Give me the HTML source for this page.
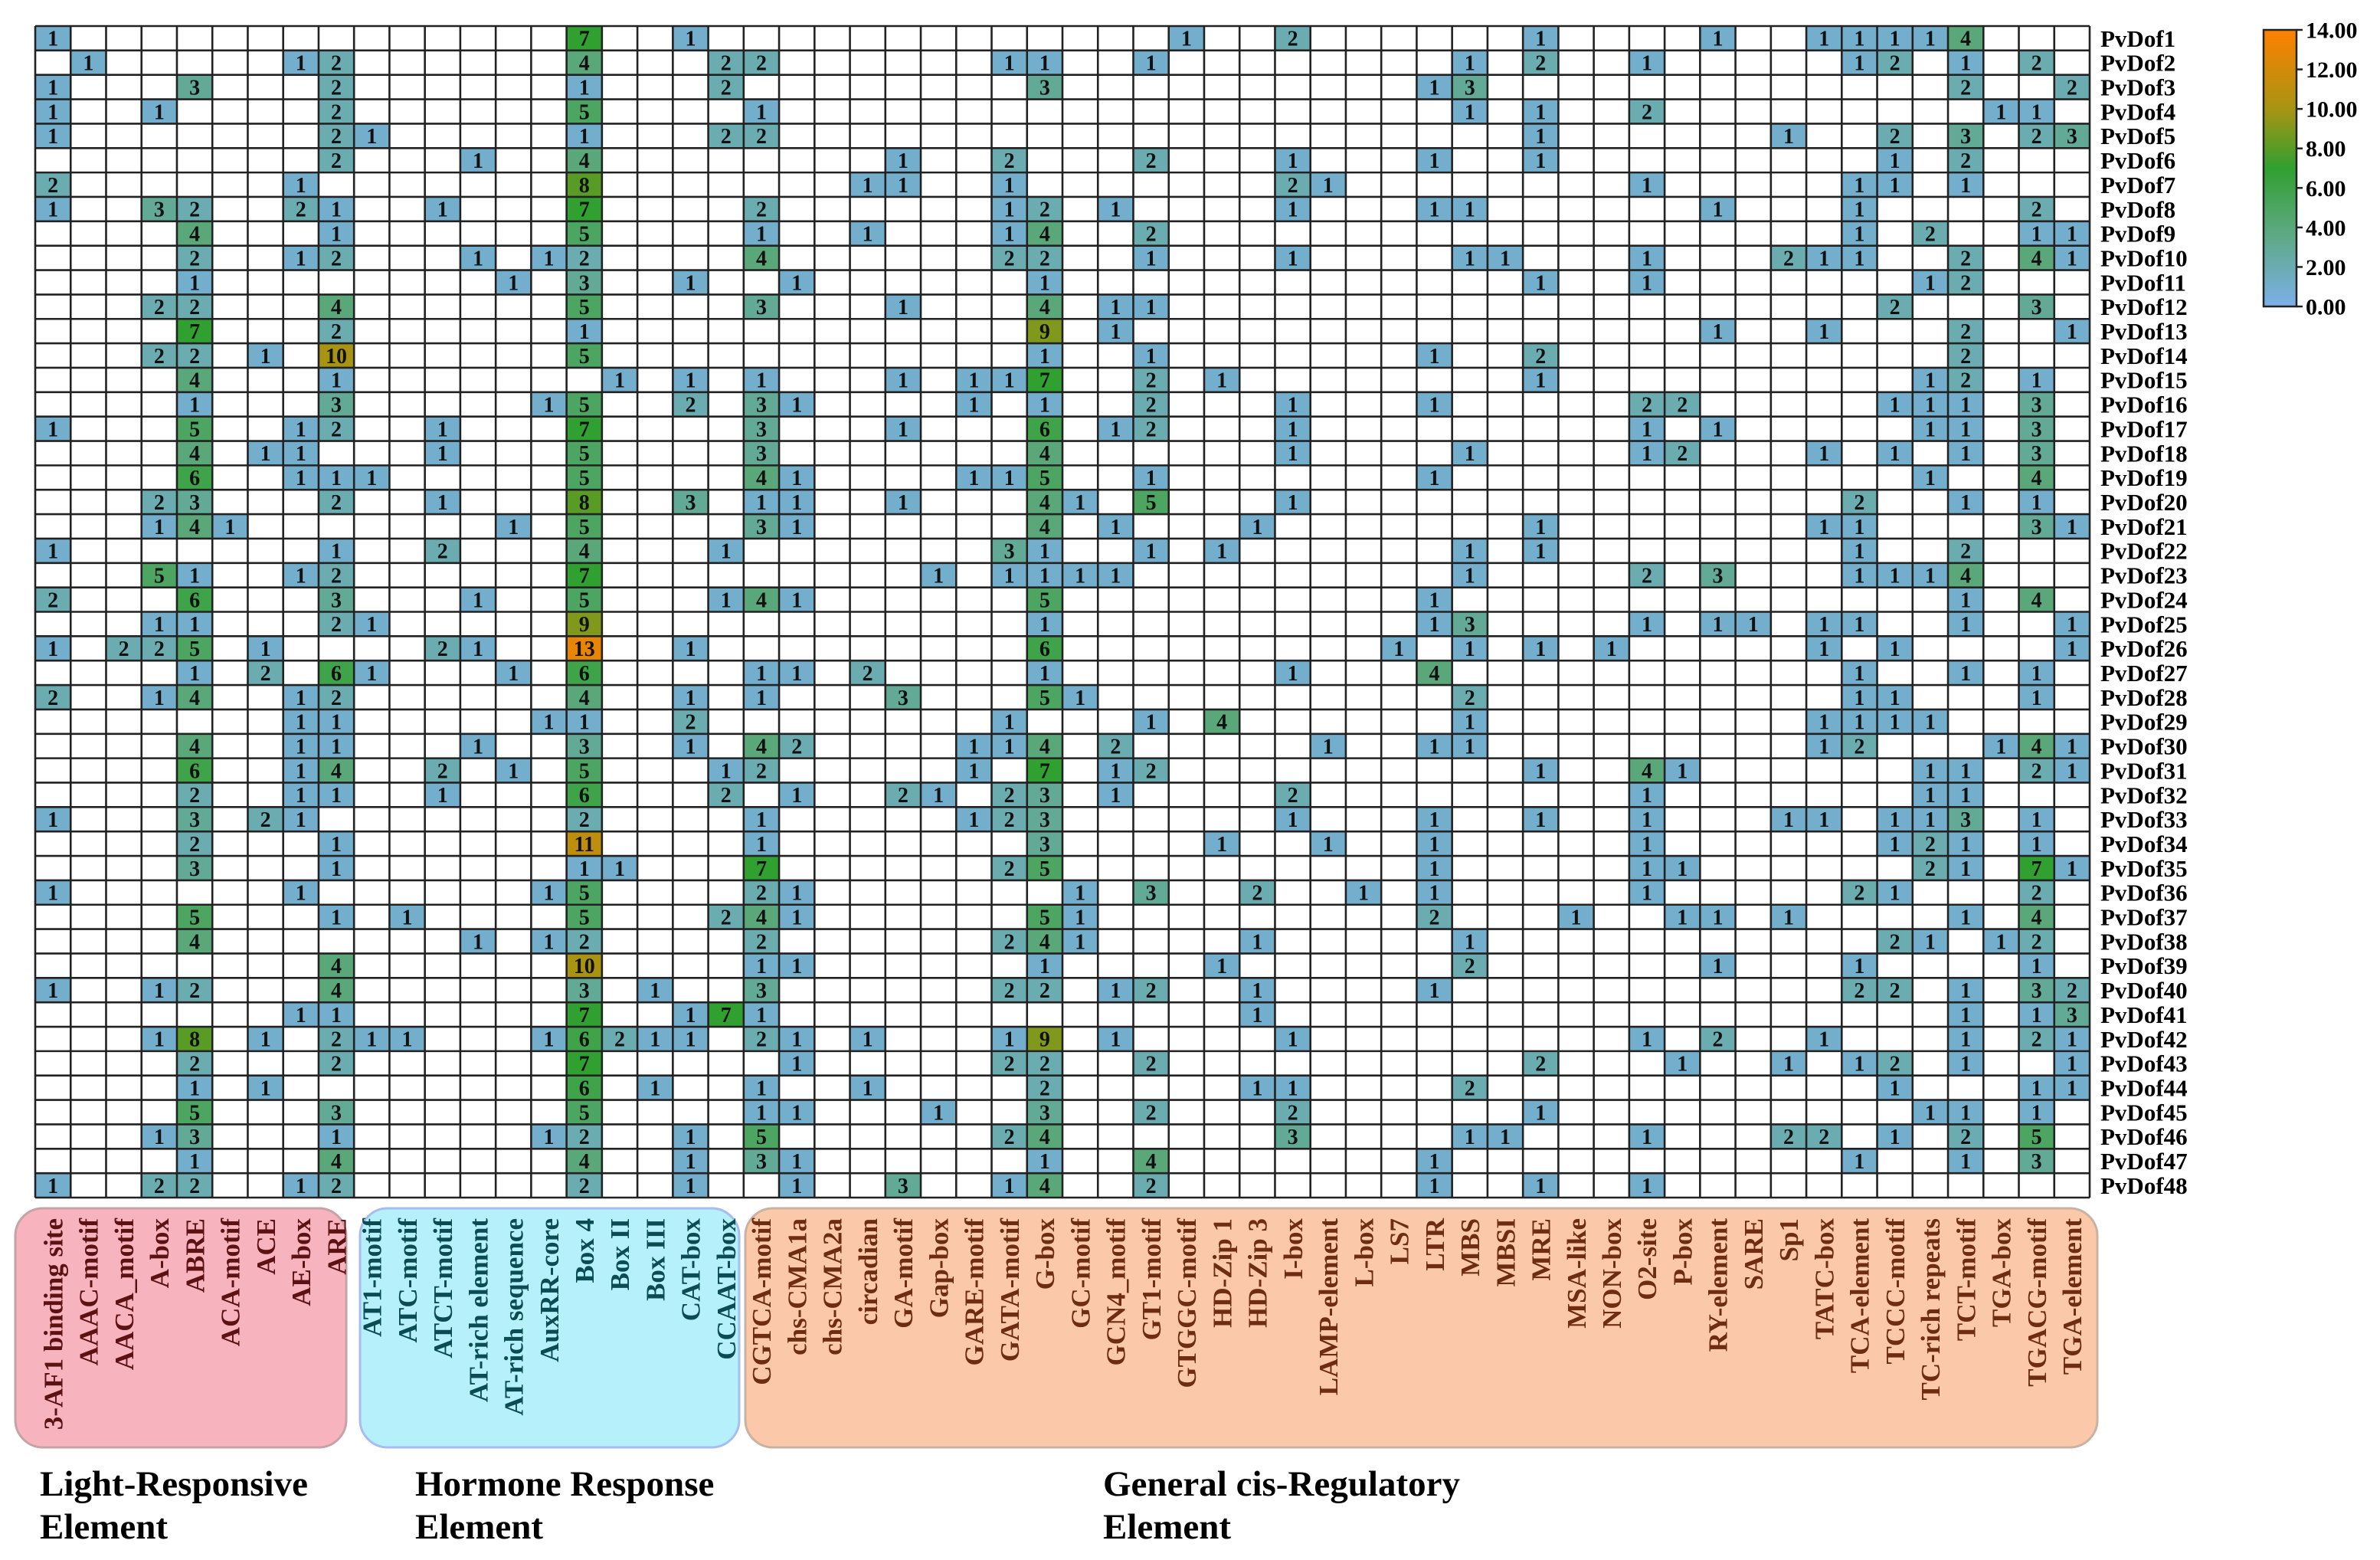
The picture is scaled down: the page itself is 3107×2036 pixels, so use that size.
<!DOCTYPE html>
<html><head><meta charset="utf-8"><style>
html,body{margin:0;padding:0;background:#fff;}
svg{display:block;font-family:"Liberation Serif",serif;font-weight:bold;}
</style></head><body>
<svg id="chart" width="3107" height="2036" viewBox="0 0 3107 2036" xmlns="http://www.w3.org/2000/svg">
<g id="groups"></g><g id="cells"></g><g id="rowlabels"></g><g id="collabels"></g><g id="legend"></g>
</svg>
<script>
const categories = ["3-AF1 binding site","AAAC-motif","AACA_motif","A-box","ABRE","ACA-motif","ACE","AE-box","ARE",
"AT1-motif","ATC-motif","ATCT-motif","AT-rich element","AT-rich sequence","AuxRR-core","Box 4","Box II","Box III","CAT-box","CCAAT-box",
"CGTCA-motif","chs-CMA1a","chs-CMA2a","circadian","GA-motif","Gap-box","GARE-motif","GATA-motif","G-box","GC-motif","GCN4_motif","GT1-motif","GTGGC-motif","HD-Zip 1","HD-Zip 3","I-box","LAMP-element","L-box","LS7","LTR","MBS","MBSI","MRE","MSA-like","NON-box","O2-site","P-box","RY-element","SARE","Sp1","TATC-box","TCA-element","TCCC-motif","TC-rich repeats","TCT-motif","TGA-box","TGACG-motif","TGA-element"];
const genes = Array.from({length:48},(_,i)=>"PvDof"+(i+1));
const groupNames = ["Light-Responsive Element","Hormone Response Element","General cis-Regulatory Element"];
const groupSizes = [9,11,38];
const colorTicks = [0,2,4,6,8,10,12,14];
const colorStopValues = [0,4,7,10,14];
const colorStopColors = ["#7cb0e8","#5aa87a","#30a030","#a89412","#ff8000"];
// sparse counts: "col:value" per gene
const counts = [
"0:1,15:7,18:1,32:1,35:2,42:1,47:1,50:1,51:1,52:1,53:1,54:4",
"1:1,7:1,8:2,15:4,19:2,20:2,27:1,28:1,31:1,40:1,42:2,45:1,51:1,52:2,54:1,56:2",
"0:1,4:3,8:2,15:1,19:2,28:3,39:1,40:3,54:2,57:2",
"0:1,3:1,8:2,15:5,20:1,40:1,42:1,45:2,55:1,56:1",
"0:1,8:2,9:1,15:1,19:2,20:2,42:1,49:1,52:2,54:3,56:2,57:3",
"8:2,12:1,15:4,24:1,27:2,31:2,35:1,39:1,42:1,52:1,54:2",
"0:2,7:1,15:8,23:1,24:1,27:1,35:2,36:1,45:1,51:1,52:1,54:1",
"0:1,3:3,4:2,7:2,8:1,11:1,15:7,20:2,27:1,28:2,30:1,35:1,39:1,40:1,47:1,51:1,56:2",
"4:4,8:1,15:5,20:1,23:1,27:1,28:4,31:2,51:1,53:2,56:1,57:1",
"4:2,7:1,8:2,12:1,14:1,15:2,20:4,27:2,28:2,31:1,35:1,40:1,41:1,45:1,49:2,50:1,51:1,54:2,56:4,57:1",
"4:1,13:1,15:3,18:1,21:1,28:1,42:1,45:1,53:1,54:2",
"3:2,4:2,8:4,15:5,20:3,24:1,28:4,30:1,31:1,52:2,56:3",
"4:7,8:2,15:1,28:9,30:1,47:1,50:1,54:2,57:1",
"3:2,4:2,6:1,8:10,15:5,28:1,31:1,39:1,42:2,54:2",
"4:4,8:1,16:1,18:1,20:1,24:1,26:1,27:1,28:7,31:2,33:1,42:1,53:1,54:2,56:1",
"4:1,8:3,14:1,15:5,18:2,20:3,21:1,26:1,28:1,31:2,35:1,39:1,45:2,46:2,52:1,53:1,54:1,56:3",
"0:1,4:5,7:1,8:2,11:1,15:7,20:3,24:1,28:6,30:1,31:2,35:1,45:1,47:1,53:1,54:1,56:3",
"4:4,6:1,7:1,11:1,15:5,20:3,28:4,35:1,40:1,45:1,46:2,50:1,52:1,54:1,56:3",
"4:6,7:1,8:1,9:1,15:5,20:4,21:1,26:1,27:1,28:5,31:1,39:1,53:1,56:4",
"3:2,4:3,8:2,11:1,15:8,18:3,20:1,21:1,24:1,28:4,29:1,31:5,35:1,51:2,54:1,56:1",
"3:1,4:4,5:1,13:1,15:5,20:3,21:1,28:4,30:1,34:1,42:1,50:1,51:1,56:3,57:1",
"0:1,8:1,11:2,15:4,19:1,27:3,28:1,31:1,33:1,40:1,42:1,51:1,54:2",
"3:5,4:1,7:1,8:2,15:7,25:1,27:1,28:1,29:1,30:1,40:1,45:2,47:3,51:1,52:1,53:1,54:4",
"0:2,4:6,8:3,12:1,15:5,19:1,20:4,21:1,28:5,39:1,54:1,56:4",
"3:1,4:1,8:2,9:1,15:9,28:1,39:1,40:3,45:1,47:1,48:1,50:1,51:1,54:1,57:1",
"0:1,2:2,3:2,4:5,6:1,11:2,12:1,15:13,18:1,28:6,38:1,40:1,42:1,44:1,50:1,52:1,57:1",
"4:1,6:2,8:6,9:1,13:1,15:6,20:1,21:1,23:2,28:1,35:1,39:4,51:1,54:1,56:1",
"0:2,3:1,4:4,7:1,8:2,15:4,18:1,20:1,24:3,28:5,29:1,40:2,51:1,52:1,56:1",
"7:1,8:1,14:1,15:1,18:2,27:1,31:1,33:4,40:1,50:1,51:1,52:1,53:1",
"4:4,7:1,8:1,12:1,15:3,18:1,20:4,21:2,26:1,27:1,28:4,30:2,36:1,39:1,40:1,50:1,51:2,55:1,56:4,57:1",
"4:6,7:1,8:4,11:2,13:1,15:5,19:1,20:2,26:1,28:7,30:1,31:2,42:1,45:4,46:1,53:1,54:1,56:2,57:1",
"4:2,7:1,8:1,11:1,15:6,19:2,21:1,24:2,25:1,27:2,28:3,30:1,35:2,45:1,53:1,54:1",
"0:1,4:3,6:2,7:1,15:2,20:1,26:1,27:2,28:3,35:1,39:1,42:1,45:1,49:1,50:1,52:1,53:1,54:3,56:1",
"4:2,8:1,15:11,20:1,28:3,33:1,36:1,39:1,45:1,52:1,53:2,54:1,56:1",
"4:3,8:1,15:1,16:1,20:7,27:2,28:5,39:1,45:1,46:1,53:2,54:1,56:7,57:1",
"0:1,7:1,14:1,15:5,20:2,21:1,29:1,31:3,34:2,37:1,39:1,45:1,51:2,52:1,56:2",
"4:5,8:1,10:1,15:5,19:2,20:4,21:1,28:5,29:1,39:2,43:1,46:1,47:1,49:1,54:1,56:4",
"4:4,12:1,14:1,15:2,20:2,27:2,28:4,29:1,34:1,40:1,52:2,53:1,55:1,56:2",
"8:4,15:10,20:1,21:1,28:1,33:1,40:2,47:1,51:1,56:1",
"0:1,3:1,4:2,8:4,15:3,17:1,20:3,27:2,28:2,30:1,31:2,34:1,39:1,51:2,52:2,54:1,56:3,57:2",
"7:1,8:1,15:7,18:1,19:7,20:1,34:1,54:1,56:1,57:3",
"3:1,4:8,6:1,8:2,9:1,10:1,14:1,15:6,16:2,17:1,18:1,20:2,21:1,23:1,27:1,28:9,30:1,35:1,45:1,47:2,50:1,54:1,56:2,57:1",
"4:2,8:2,15:7,21:1,27:2,28:2,31:2,42:2,46:1,49:1,51:1,52:2,54:1,57:1",
"4:1,6:1,15:6,17:1,20:1,23:1,28:2,34:1,35:1,40:2,52:1,56:1,57:1",
"4:5,8:3,15:5,20:1,21:1,25:1,28:3,31:2,35:2,42:1,53:1,54:1,56:1",
"3:1,4:3,8:1,14:1,15:2,18:1,20:5,27:2,28:4,35:3,40:1,41:1,45:1,49:2,50:2,52:1,54:2,56:5",
"4:1,8:4,15:4,18:1,20:3,21:1,28:1,31:4,39:1,51:1,54:1,56:3",
"0:1,3:2,4:2,7:1,8:2,15:2,18:1,21:1,24:3,27:1,28:4,31:2,39:1,42:1,45:1"
];

const NS="http://www.w3.org/2000/svg";
const X0=46, Y0=34, CW=(2728-46)/58, RH=(1563-34)/48;
const xPos=c=>X0+c*CW, yPos=r=>Y0+r*RH;
const VMAX=14, CB_TOP=39, CB_BOT=400;
const cbY=v=>CB_BOT-(v/VMAX)*(CB_BOT-CB_TOP);
function hex(h){return [1,3,5].map(i=>parseInt(h.substr(i,2),16));}
function colorFor(v){
  for(let i=0;i<colorStopValues.length-1;i++){
    const a=colorStopValues[i],b=colorStopValues[i+1];
    if(v<=b){const t=(v-a)/(b-a);const c1=hex(colorStopColors[i]),c2=hex(colorStopColors[i+1]);
      return "rgb("+c1.map((c,k)=>Math.round(c+(c2[k]-c)*t)).join(",")+")";}
  }
  return colorStopColors[colorStopColors.length-1];
}
function mk(tag,attrs,parent){const e=document.createElementNS(NS,tag);for(const k in attrs)e.setAttribute(k,attrs[k]);parent.appendChild(e);return e;}

const groupColors=[["#f7b4bf","#c7a2a6","#5c1212"],["#b6f1fb","#a6bdf2","#0b4b52"],["#fbc9aa","#c9b2a2","#6e2c10"]];
const groupBoxes=[[20,452],[470,965],[973,2738]];
const groupTitlePos=[[52,"Light-Responsive","Element"],[542,"Hormone Response","Element"],[1440,"General cis-Regulatory","Element"]];
const gG=document.getElementById("groups");
let start=0;
groupSizes.forEach((n,g)=>{
  const [x1,x2]=groupBoxes[g];
  const r=mk("rect",{x:x1,y:1577,width:x2-x1,height:312,rx:36,fill:groupColors[g][0],stroke:groupColors[g][1],"stroke-width":3},gG);
  
  
  const t=mk("text",{x:groupTitlePos[g][0],y:1952,"font-size":47,fill:"#000","font-family":"Liberation Serif, serif","font-weight":"bold"},gG);
  
  
  mk("tspan",{x:groupTitlePos[g][0],dy:0},t).textContent=groupTitlePos[g][1];
  mk("tspan",{x:groupTitlePos[g][0],dy:56},t).textContent=groupTitlePos[g][2];
  for(let c=start;c<start+n;c++){
    const cx=xPos(c)+CW/2;
    const lt=mk("text",{transform:"translate("+cx+",1590) rotate(-90)","text-anchor":"end",dy:"0.35em","font-size":35,fill:groupColors[g][2]},document.getElementById("collabels"));
    
    
    lt.textContent=categories[c];
  }
  start+=n;
});

const cG=document.getElementById("cells");
mk("rect",{x:X0,y:Y0,width:58*CW,height:48*RH,fill:"#fff"},cG);
counts.forEach((row,r)=>{
  row.split(",").forEach(p=>{
    const [c,v]=p.split(":").map(Number);
    const rc=mk("rect",{x:xPos(c),y:yPos(r),width:CW,height:RH,fill:colorFor(v)},cG);
    
    
    const t=mk("text",{x:xPos(c)+CW/2,y:yPos(r)+RH/2,"text-anchor":"middle",dy:"0.35em","font-size":28,fill:"#111"},cG);
    
    
    t.textContent=v;
  });
});
for(let c=0;c<=58;c++){mk("line",{x1:xPos(c),x2:xPos(c),y1:Y0,y2:yPos(48),stroke:"#222","stroke-width":2.6},cG);}
for(let r=0;r<=48;r++){mk("line",{x1:X0,x2:xPos(58),y1:yPos(r),y2:yPos(r),stroke:"#222","stroke-width":2.6},cG);}

const rG=document.getElementById("rowlabels");
genes.forEach((g,r)=>{
  const t=mk("text",{x:2742,y:yPos(r)+RH/2,dy:"0.35em","font-size":31,fill:"#000"},rG);
  
  
  t.textContent=g;
});

const lG=document.getElementById("legend");
const defs=mk("defs",{},lG);
const grad=mk("linearGradient",{id:"cbgrad",x1:0,y1:1,x2:0,y2:0},defs);
colorStopValues.forEach((v,i)=>mk("stop",{offset:(v/VMAX),"stop-color":colorStopColors[i]},grad));
const cb=mk("rect",{x:2955,y:CB_TOP,width:43,height:CB_BOT-CB_TOP,fill:"url(#cbgrad)",stroke:"#222","stroke-width":2.5},lG);


colorTicks.forEach(v=>{
  mk("line",{x1:2998,x2:3006,y1:cbY(v),y2:cbY(v),stroke:"#222","stroke-width":2.5},lG);
  const t=mk("text",{x:3010,y:cbY(v),dy:"0.35em","font-size":30,fill:"#000"},lG);
  
  
  t.textContent=v.toFixed(2);
});
</script>
</body></html>
